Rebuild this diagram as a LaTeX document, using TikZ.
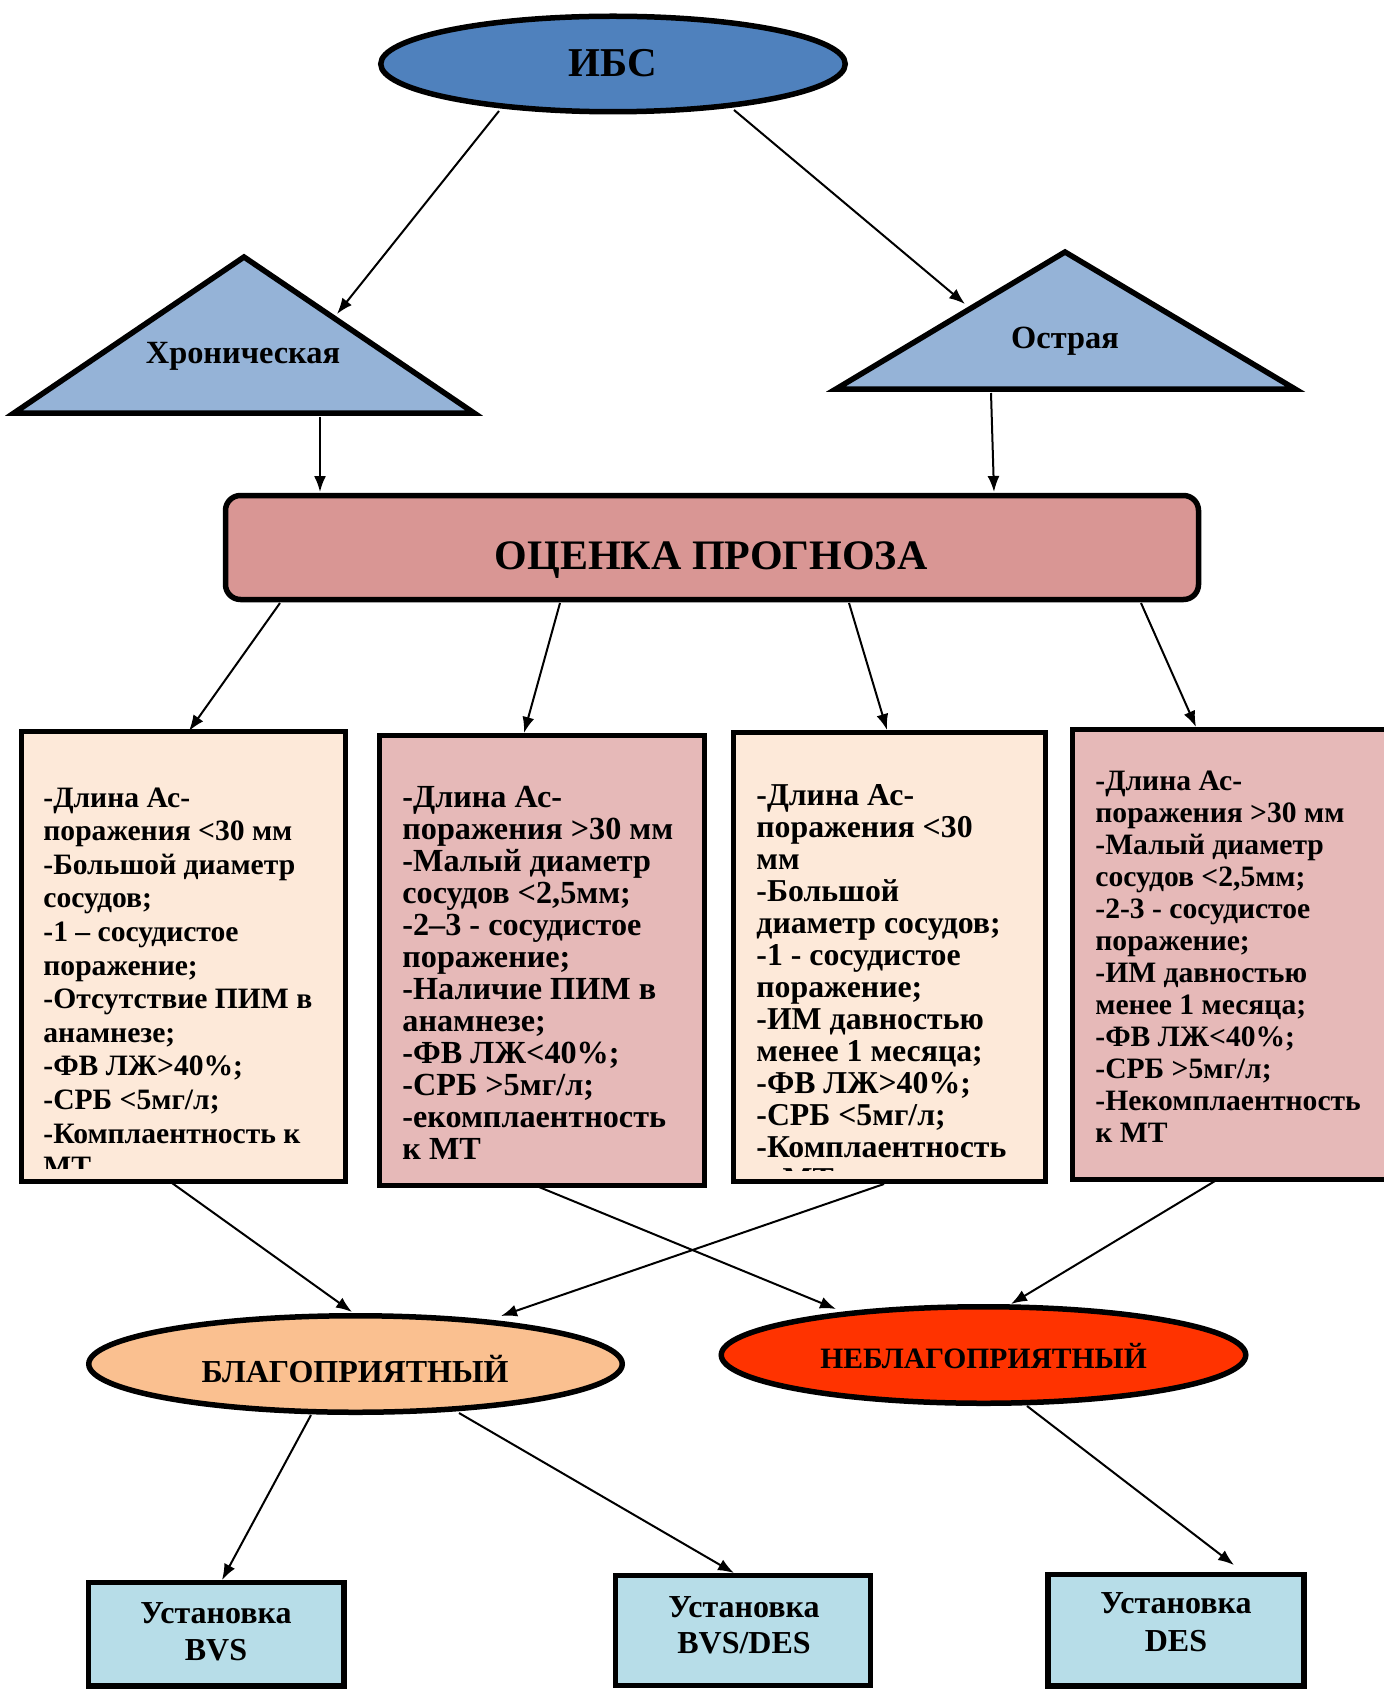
\documentclass[tikz,border=0pt]{standalone}
\usepackage{fontspec}
\setmainfont{Liberation Serif}
\usetikzlibrary{shapes.geometric,arrows.meta}
\definecolor{ibsblue}{HTML}{4F81BD}
\definecolor{triblue}{HTML}{95B3D7}
\definecolor{ocenka}{HTML}{D99694}
\definecolor{peach}{HTML}{FDE9D9}
\definecolor{rosebox}{HTML}{E6B9B8}
\definecolor{goodor}{HTML}{FAC090}
\definecolor{badred}{HTML}{FF3300}
\definecolor{instblue}{HTML}{B7DDE8}
\newcommand\tline[1]{\hbox{#1}}
\begin{document}
\begin{tikzpicture}[x=0.5pt,y=-0.5pt,
  border/.style={draw=black, line width=2.75pt},
  conn/.style={draw=black, line width=1pt, -{Latex[length=8pt,width=6pt]}},
  lbl/.style={inner sep=0pt, anchor=base},
  boxtext/.style={inner sep=0pt, anchor=base west},
]
\useasboundingbox (0,0) rectangle (1383,1690);
\fill[white] (0,0) rectangle (1383,1690);

% top ellipse
\node[ellipse, border, fill=ibsblue, minimum width=232.25pt, minimum height=47.75pt, inner sep=0pt] (ibs) at (613,64) {};
\node[lbl, font=\bfseries\fontsize{20.5pt}{24pt}\selectfont] (ibst) at (613,77) {ИБС};

% triangles
\draw[border, fill=triblue, line join=miter] (244,257) -- (474,413) -- (14,413) -- cycle;
\node[lbl, font=\bfseries\fontsize{16.2pt}{19pt}\selectfont] (chr) at (243,364) {Хроническая};
\draw[border, fill=triblue, line join=miter] (1065,252) -- (1295,389) -- (836,389) -- cycle;
\node[lbl, font=\bfseries\fontsize{16.2pt}{19pt}\selectfont] (acute) at (1065,349) {Острая};

% prognosis box
\node[border, fill=ocenka, rounded corners=7.5pt, minimum width=486.5pt, minimum height=52pt, inner sep=0pt] (ocen) at (712,547.5) {};
\node[lbl, font=\bfseries\fontsize{21pt}{25pt}\selectfont] (ocent) at (711,569) {ОЦЕНКА ПРОГНОЗА};

% criteria boxes
\node[border, fill=peach, minimum width=162pt, minimum height=225pt, inner sep=0pt] (b1) at (183.5,956.5) {};
\node[border, fill=rosebox, minimum width=162.5pt, minimum height=225pt, inner sep=0pt] (b2) at (542,960.5) {};
\node[border, fill=peach, minimum width=156pt, minimum height=224.5pt, inner sep=0pt] (b3) at (889.5,957) {};
\node[border, fill=rosebox, minimum width=164pt, minimum height=225pt, inner sep=0pt] (b4) at (1236.5,954.5) {};

\begin{scope}
\clip (25,735) rectangle (343,1168);
\node[boxtext, font=\bfseries\fontsize{14.8pt}{16.8pt}\selectfont] (t1) at (43,807) {\vtop{%
\tline{-Длина Ас-}\tline{поражения <30 мм}\tline{-Большой диаметр}\tline{сосудов;}%
\tline{-1 – сосудистое}\tline{поражение;}\tline{-Отсутствие ПИМ в}\tline{анамнезе;}%
\tline{-ФВ ЛЖ>40\%;}\tline{-СРБ <5мг/л;}\tline{-Комплаентность к}\tline{МТ}}};
\end{scope}

\node[boxtext, font=\bfseries\fontsize{16.1pt}{16pt}\selectfont] (t2) at (402,807) {\vtop{%
\tline{-Длина Ас-}\tline{поражения >30 мм}\tline{-Малый диаметр}\tline{сосудов <2,5мм;}%
\tline{-2–3 - сосудистое}\tline{поражение;}\tline{-Наличие ПИМ в}\tline{анамнезе;}%
\tline{-ФВ ЛЖ<40\%;}\tline{-СРБ >5мг/л;}\tline{-екомплаентность}\tline{к МТ}}};

\begin{scope}
\clip (736,735) rectangle (1043,1170);
\node[boxtext, font=\bfseries\fontsize{15.9pt}{16pt}\selectfont] (t3) at (756,805) {\vtop{%
\tline{-Длина Ас-}\tline{поражения <30}\tline{мм}\tline{-Большой}%
\tline{диаметр сосудов;}\tline{-1 - сосудистое}\tline{поражение;}\tline{-ИМ давностью}%
\tline{менее 1 месяца;}\tline{-ФВ ЛЖ>40\%;}\tline{-СРБ <5мг/л;}\tline{-Комплаентность}\tline{к МТ}}};
\end{scope}

\node[boxtext, font=\bfseries\fontsize{14.8pt}{16pt}\selectfont] (t4) at (1095,790) {\vtop{%
\tline{-Длина Ас-}\tline{поражения >30 мм}\tline{-Малый диаметр}\tline{сосудов <2,5мм;}%
\tline{-2-3 - сосудистое}\tline{поражение;}\tline{-ИМ давностью}\tline{менее 1 месяца;}%
\tline{-ФВ ЛЖ<40\%;}\tline{-СРБ >5мг/л;}\tline{-Некомплаентность}\tline{к МТ}}};

% outcome ellipses
\node[ellipse, border, fill=goodor, minimum width=266.75pt, minimum height=48.25pt, inner sep=0pt] (good) at (355.5,1364) {};
\node[lbl, font=\bfseries\fontsize{16pt}{19pt}\selectfont] (goodt) at (355,1382) {БЛАГОПРИЯТНЫЙ};
\node[ellipse, border, fill=badred, minimum width=262.25pt, minimum height=48.25pt, inner sep=0pt] (bad) at (983.5,1355) {};
\node[lbl, font=\bfseries\fontsize{14.8pt}{18pt}\selectfont] (badt) at (983.5,1368) {НЕБЛАГОПРИЯТНЫЙ};

% installation boxes
\node[border, fill=instblue, minimum width=127.75pt, minimum height=51.75pt, inner sep=0pt] (i1) at (216.25,1634.25) {};
\node[border, fill=instblue, minimum width=127.5pt, minimum height=55pt, inner sep=0pt] (i2) at (743,1630.5) {};
\node[border, fill=instblue, minimum width=128pt, minimum height=55.75pt, inner sep=0pt] (i3) at (1176,1630.25) {};
\node[lbl, font=\bfseries\fontsize{16pt}{18pt}\selectfont] (i1a) at (216,1623) {Установка};
\node[lbl, font=\bfseries\fontsize{16pt}{18pt}\selectfont] (i1b) at (216,1660) {BVS};
\node[lbl, font=\bfseries\fontsize{16pt}{18pt}\selectfont] (i2a) at (744,1617) {Установка};
\node[lbl, font=\bfseries\fontsize{16pt}{18pt}\selectfont] (i2b) at (744,1653) {BVS/DES};
\node[lbl, font=\bfseries\fontsize{16pt}{18pt}\selectfont] (i3a) at (1176,1613) {Установка};
\node[lbl, font=\bfseries\fontsize{16pt}{18pt}\selectfont] (i3b) at (1176,1651) {DES};

% connector end points
\coordinate (ibsL) at (499,111);   \coordinate (chrIn) at (337,314);
\coordinate (ibsR) at (734,110);   \coordinate (acuIn) at (965,304);
\coordinate (chrOut) at (320,417); \coordinate (ocIn1) at (320,492);
\coordinate (acuOut) at (991,393); \coordinate (ocIn2) at (994,492);
\coordinate (oc1) at (280,603);  \coordinate (b1in) at (189,731);
\coordinate (oc2) at (560,603);  \coordinate (b2in) at (524,733);
\coordinate (oc3) at (849,603);  \coordinate (b3in) at (887,730);
\coordinate (oc4) at (1141,603); \coordinate (b4in) at (1196,727);
\coordinate (b1out) at (172,1183); \coordinate (goodIn1) at (352,1312);
\coordinate (b3out) at (884,1184); \coordinate (goodIn2) at (501,1316);
\coordinate (b2out) at (539,1187); \coordinate (badIn1) at (836,1309);
\coordinate (b4out) at (1215,1181); \coordinate (badIn2) at (1011,1304);
\coordinate (goodOut1) at (311,1415); \coordinate (i1in) at (222,1580);
\coordinate (goodOut2) at (459,1413); \coordinate (i2in) at (734,1573);
\coordinate (badOut) at (1027,1406);  \coordinate (i3in) at (1234,1565);

\draw[conn] (ibsL) -- (chrIn);
\draw[conn] (ibsR) -- (acuIn);
\draw[conn] (chrOut) -- (ocIn1);
\draw[conn] (acuOut) -- (ocIn2);
\draw[conn] (oc1) -- (b1in);
\draw[conn] (oc2) -- (b2in);
\draw[conn] (oc3) -- (b3in);
\draw[conn] (oc4) -- (b4in);
\draw[conn] (b1out) -- (goodIn1);
\draw[conn] (b3out) -- (goodIn2);
\draw[conn] (b2out) -- (badIn1);
\draw[conn] (b4out) -- (badIn2);
\draw[conn] (goodOut1) -- (i1in);
\draw[conn] (goodOut2) -- (i2in);
\draw[conn] (badOut) -- (i3in);
\end{tikzpicture}
\end{document}
